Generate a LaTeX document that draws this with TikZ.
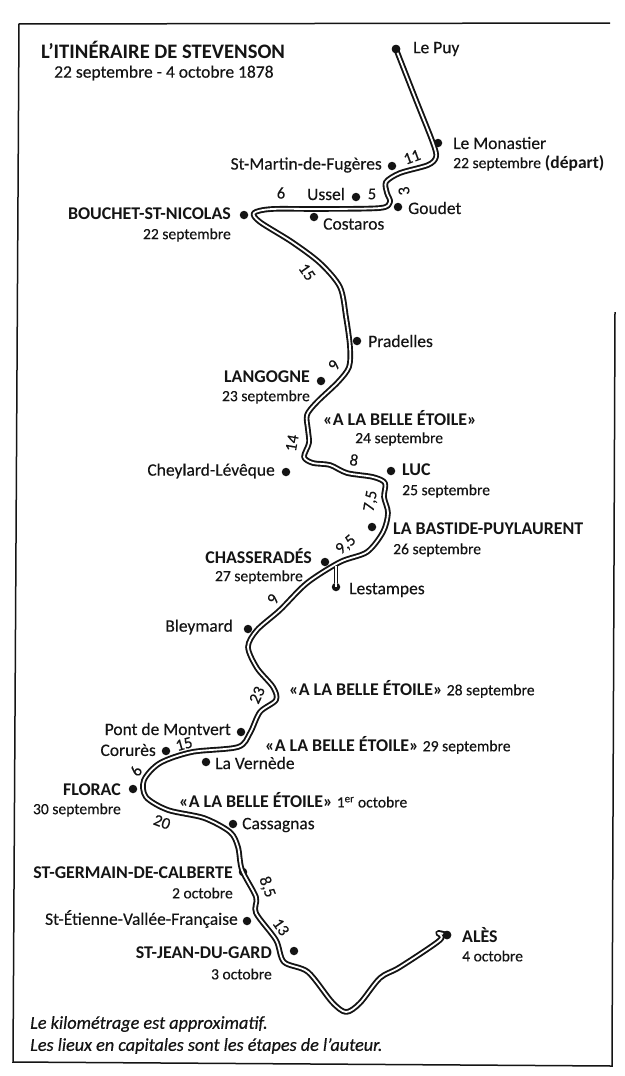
\documentclass[tikz,border=0pt]{standalone}
\usepackage{fontspec}
\setmainfont{Carlito}[UprightFeatures={FakeBold=0.25},ItalicFeatures={FakeBold=0.5}]
\definecolor{ink}{gray}{0.08}
\newcommand{\dte}[1]{{\fontsize{15.6}{16}\selectfont #1}}
\tikzset{
  lab/.style={inner sep=0pt,text=ink,font=\fontsize{17.5}{18}\selectfont},
  le/.style={lab,anchor=west},
  ri/.style={lab,anchor=east},
  caps/.style={font=\fontsize{17.9}{19}\bfseries\selectfont},
  km/.style={lab,anchor=center,font=\fontsize{16.5}{17}\selectfont},
  note/.style={le,font=\fontsize{18.2}{19}\itshape\selectfont},
  place/.style={circle,fill=ink,inner sep=0pt,minimum size=8.5pt},
  road/.style={line width=5.6pt,draw=ink,line join=round},
  roadin/.style={line width=1.8pt,draw=white,line join=round},
  frameline/.style={draw=ink,line width=1.5pt}
}
\begin{document}
\begin{tikzpicture}[x=1pt,y=-1pt]
\useasboundingbox (0,0) rectangle (624,1076);
\fill[white] (0,0) rectangle (624,1076);
% frame
\coordinate (ftl) at (19,24); \coordinate (ftr) at (610,23);
\coordinate (fbl) at (13,1062); \coordinate (fbr) at (612,1066);
\coordinate (frt) at (615,312);
\draw[frameline] (ftr) -- (ftl) -- (fbl) -- (fbr) -- (frt);
% places
\node[place] (lepuy) at (396,49) {};
\node[place] (monastier) at (438,143) {};
\node[place] (martin) at (392,166) {};
\node[place] (ussel) at (356,197) {};
\node[place] (goudet) at (398,207) {};
\node[place] (costaros) at (314,217) {};
\node[place] (bouchet) at (244,215) {};
\node[place] (pradelles) at (357,341) {};
\node[place] (langogne) at (321,381) {};
\node[place] (cheylard) at (286,472) {};
\node[place] (luc) at (391,471) {};
\node[place] (bastide) at (372,527) {};
\node[place] (chasserades) at (325,562) {};
\node[place] (lestampes) at (336,587) {};
\node[place] (bleymard) at (248,629) {};
\node[place] (montvert) at (241,732) {};
\node[place] (corures) at (166,751) {};
\node[place] (vernede) at (206,762) {};
\node[place] (florac) at (133,789) {};
\node[place] (cassagnas) at (233,824) {};
\node[place] (germain) at (243,872) {};
\node[place] (etienne) at (247,921) {};
\node[place] (jean) at (294,951) {};
\node[place] (ales) at (447,935) {};
\coordinate (spur) at (336,566);
% road
\def\roadpts{(lepuy) (416,100) (433,143) (436,157) (428,165) (400,173) (386,182) (387,193) (390,202) (380,208) (320,209) (272,209) (254,213) (260,222) (292,242) (320,263) (340,287) (346,317) (350,347) (349,367) (338,382) (317,402) (307,415) (308,430) (309,443) (304,457) (313,463) (330,465) (347,473) (373,477) (385,483) (384,497) (388,513) (383,532) (367,552) (340,562) (307,583) (280,610) (257,630) (248,647) (257,668) (273,687) (276,700) (260,712) (250,733) (238,747) (192,752) (160,763) (144,780) (146,797) (168,810) (204,818) (230,832) (238,847) (242,870) (256,897) (256,913) (276,940) (284,962) (308,972) (332,1002) (346,1012) (360,1003) (380,978) (400,967) (440,940) (438,933) (ales)}
\draw[road] plot[smooth,tension=0.5] coordinates {\roadpts};
\draw[road,line width=4.6pt] (spur) -- (lestampes);
\draw[roadin,line width=1.5pt] (spur) -- ([yshift=-4pt]lestampes.north);
\draw[roadin] plot[smooth,tension=0.5] coordinates {\roadpts};
\node[place] at (lepuy) {};
\node[place] at (ales) {};
% title
\node[le,font=\fontsize{20.6}{21}\bfseries\selectfont] (title) at (41,50) {L'ITINÉRAIRE DE STEVENSON};
\node[le] (subtitle) at (54,73) {22 septembre - 4 octobre 1878};
% labels
\node[le] (tlepuy) at (413,49) {Le Puy};
\node[le] (tmon) at (453,143) {Le Monastier};
\node[le] (tmon2) at (453,163) {\dte{22 septembre} {\bfseries (départ)}};
\node[ri] (tmar) at (382,165) {St-Martin-de-Fugères};
\node[ri] (tuss) at (345,194) {Ussel};
\node[le] (tgou) at (408,208) {Goudet};
\node[le] (tcos) at (323,224) {Costaros};
\node[ri,caps] (tbou) at (231,214) {BOUCHET-ST-NICOLAS};
\node[ri] (tbou2) at (231,235) {\dte{22 septembre}};
\node[le] (tpra) at (368,341) {Pradelles};
\node[ri,caps] (tlan) at (310,377) {LANGOGNE};
\node[ri] (tlan2) at (310,397) {\dte{23 septembre}};
\node[le,caps] (te24) at (323,418) {«A LA BELLE ÉTOILE»};
\node[le] (te24b) at (355,439) {\dte{24 septembre}};
\node[ri] (tche) at (275,471) {Cheylard-Lévêque};
\node[le,caps] (tluc) at (402,470) {LUC};
\node[le] (tluc2) at (402,491) {\dte{25 septembre}};
\node[le,caps] (tbas) at (393,529) {LA BASTIDE-PUYLAURENT};
\node[le] (tbas2) at (393,550) {\dte{26 septembre}};
\node[ri,caps] (tcha) at (312,556) {CHASSERADÉS};
\node[ri] (tcha2) at (303,577) {\dte{27 septembre}};
\node[le] (tles) at (349,590) {Lestampes};
\node[ri] (tble) at (233,627) {Bleymard};
\node[le] (te28) at (289,689) {{\fontsize{17.9}{19}\bfseries «A LA BELLE ÉTOILE»} \dte{28 septembre}};
\node[ri] (tmont) at (231,729) {Pont de Montvert};
\node[ri] (tcor) at (156,750) {Corurès};
\node[le] (te29) at (265,745) {{\fontsize{17.9}{19}\bfseries «A LA BELLE ÉTOILE»} \dte{29 septembre}};
\node[le] (tver) at (215,763) {La Vernède};
\node[ri,caps] (tflo) at (121,790) {FLORAC};
\node[ri] (tflo2) at (121,810) {\dte{30 septembre}};
\node[le] (te1) at (179,800) {{\fontsize{17.9}{19}\bfseries «A LA BELLE ÉTOILE»} \dte{1\textsuperscript{er} octobre}};
\node[le] (tcas) at (242,825) {Cassagnas};
\node[ri,caps] (tger) at (233,873) {ST-GERMAIN-DE-CALBERTE};
\node[ri] (tger2) at (233,893) {\dte{2 octobre}};
\node[ri] (teti) at (238,919) {St-Étienne-Vallée-Française};
\node[ri,caps] (tjea) at (272,953) {ST-JEAN-DU-GARD};
\node[ri] (tjea2) at (272,974) {\dte{3 octobre}};
\node[le,caps] (tale) at (462,935) {ALÈS};
\node[le] (tale2) at (462,956) {\dte{4 octobre}};
\node[note] (n1) at (30,1024) {Le kilométrage est approximatif.};
\node[note] (n2) at (30,1046) {Les lieux en capitales sont les étapes de l'auteur.};
% distances
\node[km,rotate=20] (k11) at (412,157) {11};
\node[km] (k6a) at (281,193) {6};
\node[km] (k5) at (372,194) {5};
\node[km,rotate=100] (k3) at (404,191) {3};
\node[km,rotate=-55] (k15a) at (307,272) {15};
\node[km,rotate=60] (k9a) at (334,365) {9};
\node[km,rotate=80] (k14) at (292,443) {14};
\node[km,rotate=-10] (k8) at (354,460) {8};
\node[km,rotate=80] (k75) at (371,501) {7,5};
\node[km,rotate=40] (k95) at (346,545) {9,5};
\node[km,rotate=60] (k9b) at (273,599) {9};
\node[km,rotate=65] (k23) at (257,695) {23};
\node[km,rotate=15] (k15b) at (184,744) {15};
\node[km,rotate=60] (k6b) at (136,771) {6};
\node[km,rotate=-20] (k20) at (162,822) {20};
\node[km,rotate=-70] (k85) at (267,887) {8,5};
\node[km,rotate=-55] (k13) at (281,927) {13};
\end{tikzpicture}
\end{document}
